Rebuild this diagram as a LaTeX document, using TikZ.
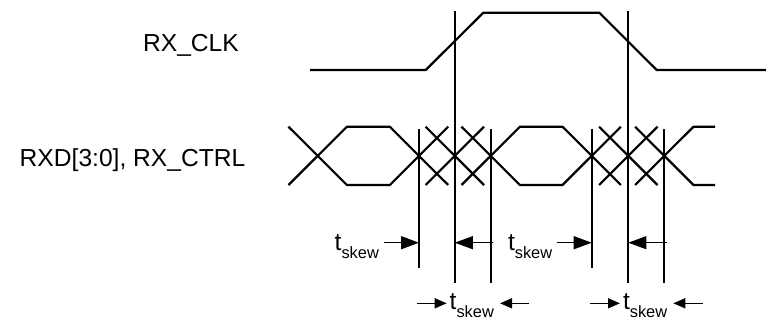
\documentclass[tikz,border=0pt]{standalone}
\usepackage{fontspec}
\setmainfont{Liberation Sans}
\usetikzlibrary{arrows.meta}
\newcommand\tskewlabel{t\raisebox{-8pt}{\fontsize{16.4}{18}\selectfont skew}}
\begin{document}
\begin{tikzpicture}[x=1pt,y=-1pt,
  sig/.style={line width=2.2pt, line join=miter},
  vline/.style={line width=1.9pt},
  bigarrow/.style={line width=1.5pt, -{Triangle[length=18pt,width=13pt]}},
  smallarrow/.style={line width=1.4pt, -{Triangle[length=12pt,width=10pt]}},
  lbl/.style={font=\fontsize{24.6}{28}\selectfont, inner sep=0pt},
  sklbl/.style={font=\fontsize{24.6}{28}\selectfont, inner sep=0pt, anchor=base west}]
\useasboundingbox (0,0) rectangle (766,327);
% signal names
\node[lbl, anchor=base east] (clkname) at (239,51.7) {RX\_CLK};
\node[lbl, anchor=base east] (dname) at (245.5,166.7) {RXD[3:0], RX\_CTRL};
% clock
\draw[sig] (310,70) -- (425.7,70) -- (483.3,12.7) -- (599.3,12.7) -- (656.7,70) -- (766,70);
% data (T=126.7, B=185)
\def\T{126.7}\def\B{185}
\draw[sig] (288.5,\B) -- (346.9,\T) -- (389.8,\T) -- (448.2,\B);
\draw[sig] (288.5,\T) -- (346.9,\B) -- (389.8,\B) -- (448.2,\T);
\draw[sig] (425.6,\T) -- (484,\B);
\draw[sig] (425.6,\B) -- (484,\T);
\draw[sig] (461.5,\T) -- (519.9,\B) -- (562.5,\B) -- (620.9,\T);
\draw[sig] (461.5,\B) -- (519.9,\T) -- (562.5,\T) -- (620.9,\B);
\draw[sig] (599.1,\T) -- (657.5,\B);
\draw[sig] (599.1,\B) -- (657.5,\T);
\draw[sig] (635.1,\T) -- (693.5,\B) -- (715,\B);
\draw[sig] (635.1,\B) -- (693.5,\T) -- (715,\T);
% vertical reference lines
\coordinate (v1t) at (419,129.3);   \coordinate (v1b) at (419,268.3);
\coordinate (v2t) at (454.8,11);    \coordinate (v2b) at (454.8,283.3);
\coordinate (v3t) at (490.7,129.3); \coordinate (v3b) at (490.7,283.3);
\coordinate (v4t) at (591.7,129.3); \coordinate (v4b) at (591.7,268.3);
\coordinate (v5t) at (628.3,11);    \coordinate (v5b) at (628.3,283.3);
\coordinate (v6t) at (664.3,129.3); \coordinate (v6b) at (664.3,283.3);
\foreach \i in {1,...,6} \draw[vline] (v\i t) -- (v\i b);
% upper skew arrows
\coordinate (a1s) at (384,242.7);
\coordinate (a2s) at (493.3,242.7);
\coordinate (a3s) at (556.7,242.7);
\coordinate (a4s) at (666.7,242.7);
\draw[bigarrow] (a1s) -- (a1s -| v1t);
\draw[bigarrow, line width=0.8pt] (a2s) -- (a2s -| v2t);
\draw[bigarrow] (a3s) -- (a3s -| v4t);
\draw[bigarrow, line width=0.8pt] (a4s) -- (a4s -| v5t);
\node[sklbl] (sk1) at (334.5,250) {\tskewlabel};
\node[sklbl] (sk2) at (507.8,250) {\tskewlabel};
% lower skew arrows
\node[sklbl] (sk3) at (449.5,309) {\tskewlabel};
\node[sklbl] (sk4) at (622.8,309) {\tskewlabel};
\coordinate (b1s) at (416.7,303.3); \coordinate (b1e) at (446.7,303.3);
\coordinate (b2s) at (529.3,303.3); \coordinate (b2e) at (500,303.3);
\coordinate (b3s) at (590,303.3);   \coordinate (b3e) at (620,303.3);
\coordinate (b4s) at (702.7,303.3); \coordinate (b4e) at (673.3,303.3);
\draw[smallarrow] (b1s) -- (b1e);
\draw[smallarrow] (b2s) -- (b2e);
\draw[smallarrow] (b3s) -- (b3e);
\draw[smallarrow] (b4s) -- (b4e);
\end{tikzpicture}
\end{document}
